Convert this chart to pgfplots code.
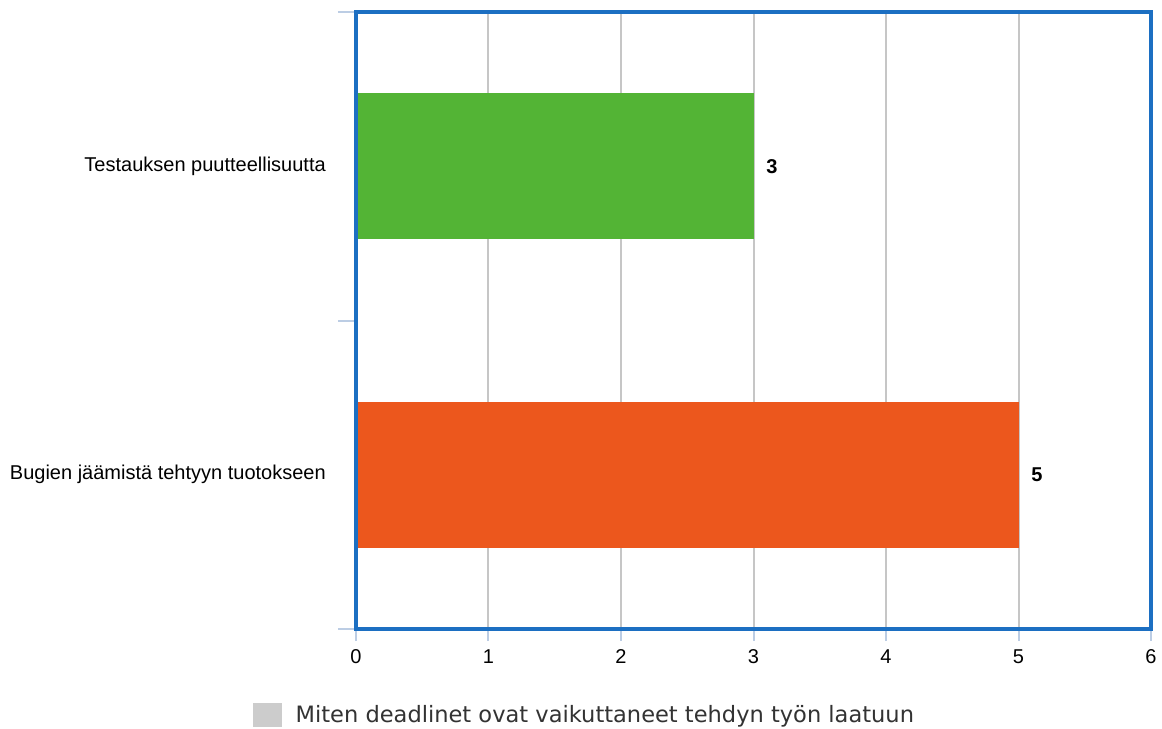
\documentclass[border=0pt]{standalone}
\usepackage{pgfplots}
\pgfplotsset{compat=1.18}
\usepackage{fontspec}
\setmainfont{Liberation Sans}
\newfontfamily\legendfont{DejaVu Sans}

\definecolor{framec}{HTML}{1C6FC2}
\definecolor{tickc}{HTML}{BCCDE4}
\definecolor{gridc}{HTML}{C6C6C6}
\definecolor{barA}{HTML}{53B435}
\definecolor{barB}{HTML}{EC571D}
\definecolor{legc}{HTML}{CCCCCC}
\definecolor{legtext}{HTML}{333333}

\begin{document}
\begin{tikzpicture}
\begin{axis}[
  name=ax,
  scale only axis,
  width=596.25pt, height=462.75pt,
  xbar, bar shift=0pt, bar width=0.474,
  xmin=0, xmax=6, ymin=-0.5, ymax=1.5,
  tick pos=left,
  % x: labels on the major ticks, short marks drawn as minor ticks
  xtick={0,...,6},
  minor xtick={0,...,6},
  major x tick style={draw=none},
  minor x tick style={draw=tickc, line width=1.5pt},
  minor tick length=9pt,
  % y: category boundaries carry the tick marks
  ytick={-0.5,0.5,1.5},
  yticklabels={},
  major y tick style={draw=tickc, line width=1.5pt},
  major tick length=13.5pt,
  % category names sit between the boundaries
  extra y ticks={0,1},
  extra y tick labels={Bugien jäämistä tehtyyn tuotokseen, Testauksen puutteellisuutta},
  extra y tick style={major y tick style={draw=none}, tick style={draw=none}},
  tick align=outside,
  xmajorgrids,
  grid style={draw=gridc, line width=1.5pt},
  axis line style={draw=framec, line width=2.6pt},
  /pgf/number format/assume math mode=true,
  tick label style={font=\fontsize{15}{18}\selectfont, text=black},
  yticklabel style={inner sep=0pt, xshift=-9pt},
  xticklabel style={inner sep=0pt, yshift=-2pt},
  nodes near coords,
  nodes near coords style={anchor=west, inner sep=0pt, xshift=9.5pt,
    font=\fontsize{15}{18}\selectfont\bfseries, text=black},
  legend style={at={(0.2875,-0.1395)}, anchor=center, draw=none,
    font=\legendfont\fontsize{16.9}{20}\selectfont, text=legtext,
    inner sep=0pt},
  legend cell align=left,
]
\addplot[fill=barA, draw=none, forget plot] coordinates {(3,1)};
\addplot[fill=barB, draw=none, forget plot] coordinates {(5,0)};
\addlegendimage{legend image code/.code={\fill[legc] (0pt,-8.5pt) rectangle (21pt,9pt); \path (30pt,0pt);}}
\addlegendentry{Miten deadlinet ovat vaikuttaneet tehdyn työn laatuun}
\draw[framec, line width=2.6pt] (rel axis cs:0,0) rectangle (rel axis cs:1,1);
\end{axis}
\path[use as bounding box] ([xshift=-267pt,yshift=-74.25pt]ax.south west)
  rectangle ([xshift=8.25pt,yshift=9pt]ax.north east);
\end{tikzpicture}
\end{document}
